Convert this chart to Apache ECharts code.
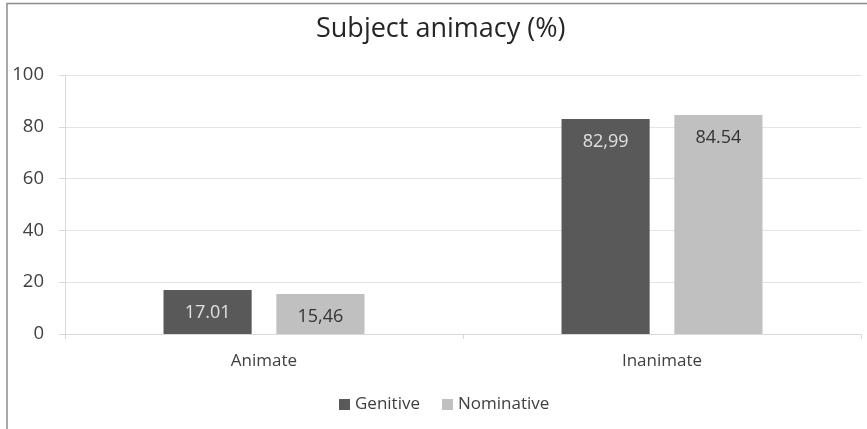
<!DOCTYPE html>
<html><head><meta charset="utf-8">
<script src="https://cdn.jsdelivr.net/npm/echarts@6/dist/echarts.min.js"></script>
<style>html,body{margin:0;padding:0;background:#fff}#c{width:867px;height:429px}</style>
</head><body><div id="c"></div>
<script>
const categories = ['Animate', 'Inanimate'];
const genitive = [17.01, 82.99];
const nominative = [15.46, 84.54];
const genitiveLabels = ['17.01', '82,99'];
const nominativeLabels = ['15,46', '84.54'];
const yTicks = { min: 0, max: 100, interval: 20 };

const chart = echarts.init(document.getElementById('c'), null, { renderer: 'canvas' });
const font = '"Open Sans", "Noto Sans", sans-serif';
chart.setOption({
  animation: false,
  textStyle: { fontFamily: font },
  graphic: [{ type: 'rect', shape: { x: 7, y: 3.5, width: 900, height: 460 }, style: { fill: 'none', stroke: '#8c8c8c', lineWidth: 1.5 }, silent: true }],
  title: { text: 'Subject animacy (%)', left: 316, top: 16, padding: 0, textStyle: { fontFamily: font, fontWeight: 'normal', fontSize: 27, color: '#262626' } },
  legend: { top: 396, left: 339, padding: 0, itemWidth: 11, itemHeight: 11, itemGap: 22, icon: 'rect', textStyle: { fontFamily: font, fontSize: 17, color: '#404040' }, data: ['Genitive', 'Nominative'] },
  grid: { left: 65, right: 6, top: 75, bottom: 95 },
  xAxis: {
    type: 'category', data: categories,
    axisLine: { lineStyle: { color: '#d9d9d9' } },
    axisTick: { show: true, length: 5, lineStyle: { color: '#d9d9d9' } },
    axisLabel: { fontFamily: font, fontSize: 17, color: '#404040', margin: 19 }
  },
  yAxis: {
    type: 'value', min: yTicks.min, max: yTicks.max, interval: yTicks.interval,
    axisLine: { show: true, lineStyle: { color: '#d9d9d9' } },
    axisTick: { show: true, length: 6, lineStyle: { color: '#d9d9d9' } },
    splitLine: { lineStyle: { color: '#e3e3e3' } },
    axisLabel: { fontFamily: font, fontSize: 18.5, color: '#404040', margin: 21 }
  },
  series: [
    { name: 'Genitive', type: 'bar', data: genitive, barGap: '28%', barCategoryGap: '49.5%',
      itemStyle: { color: '#595959' },
      label: { show: true, position: 'insideTop', distance: 14, fontFamily: font, fontSize: 18, color: '#e0e0e0', formatter: p => genitiveLabels[p.dataIndex] } },
    { name: 'Nominative', type: 'bar', data: nominative,
      itemStyle: { color: '#c0c0c0' },
      label: { show: true, position: 'insideTop', distance: 14, fontFamily: font, fontSize: 18, color: '#333333', formatter: p => nominativeLabels[p.dataIndex] } }
  ]
});
</script></body></html>
